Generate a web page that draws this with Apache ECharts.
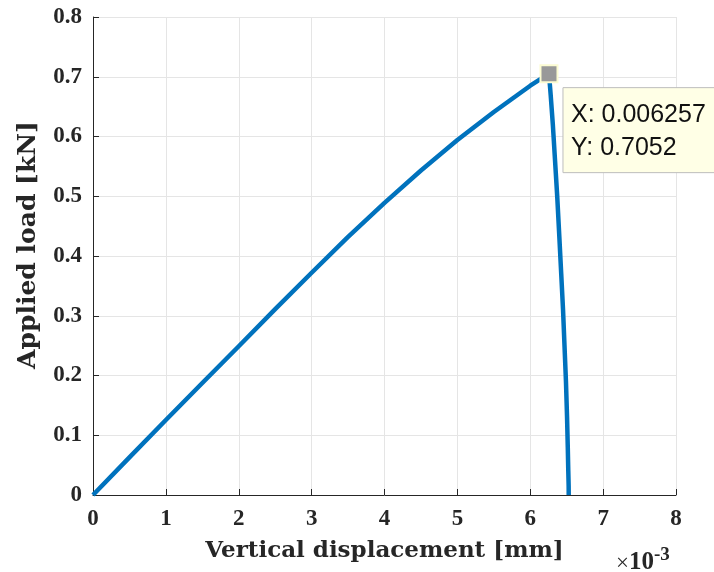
<!DOCTYPE html>
<html>
<head>
<meta charset="utf-8">
<script src="https://cdn.jsdelivr.net/npm/echarts@6/dist/echarts.min.js"></script>
<style>html,body{margin:0;padding:0;background:#fff;}#c{width:714px;height:572px;}</style>
</head>
<body>
<div id="c"></div>
<script>
// displacement in units of 1e-3 mm, load in kN
const dispRise = [0, 0.5, 1, 1.5, 2, 2.5, 3, 3.5, 4, 4.5, 5, 5.5, 6, 6.257];
const loadRise = [0, 0.063, 0.1255, 0.1875, 0.249, 0.311, 0.372, 0.432, 0.489, 0.543, 0.594, 0.641, 0.685, 0.7052];
const dispFall = [6.28, 6.31, 6.34, 6.37, 6.40, 6.425, 6.45, 6.47, 6.49, 6.505, 6.515, 6.522, 6.527, 6.528];
const loadFall = [0.67, 0.62, 0.56, 0.5, 0.43, 0.37, 0.31, 0.25, 0.19, 0.13, 0.08, 0.04, 0.015, 0];
const peak = [6.257, 0.7052];
const peakLabelX = 'X: 0.006257';
const peakLabelY = 'Y: 0.7052';
const xTicks = [0, 1, 2, 3, 4, 5, 6, 7, 8];
const yTicks = [0, 0.1, 0.2, 0.3, 0.4, 0.5, 0.6, 0.7, 0.8];
const xName = 'Vertical displacement [mm]';
const yName = 'Applied load [kN]';

const curve = [];
dispRise.forEach((d, i) => curve.push([d, loadRise[i]]));
dispFall.forEach((d, i) => curve.push([d, loadFall[i]]));

const serif = '"Liberation Serif", "DejaVu Serif", serif';
const nameFont = '"DejaVu Serif", serif';
const chart = echarts.init(document.getElementById('c'));
chart.setOption({
  animation: false,
  grid: { left: 93, right: 38, top: 17, bottom: 77 },
  xAxis: {
    type: 'value', min: xTicks[0], max: xTicks[xTicks.length - 1], interval: 1,
    name: xName, nameLocation: 'middle', nameGap: 45,
    nameTextStyle: { fontFamily: nameFont, fontWeight: 'bold', fontSize: 23, color: '#262626' },
    axisLine: { show: true, lineStyle: { color: '#262626', width: 1 } },
    axisTick: { show: true, inside: true, length: 6, lineStyle: { color: '#262626' } },
    axisLabel: { fontFamily: serif, fontWeight: 'bold', fontSize: 23, color: '#262626', margin: 13 },
    splitLine: { show: true, lineStyle: { color: '#e5e5e5', width: 1 } }
  },
  yAxis: {
    type: 'value', min: yTicks[0], max: yTicks[yTicks.length - 1], interval: 0.1,
    axisLine: { show: true, lineStyle: { color: '#262626', width: 1 } },
    axisTick: { show: true, inside: true, length: 6, lineStyle: { color: '#262626' } },
    axisLabel: { fontFamily: serif, fontWeight: 'bold', fontSize: 23, color: '#262626', margin: 11,
      formatter: v => (Math.round(v * 10) / 10).toString() },
    splitLine: { show: true, lineStyle: { color: '#e5e5e5', width: 1 } }
  },
  series: [
    {
      type: 'line', data: curve, showSymbol: false, smooth: false,
      lineStyle: { color: '#0072BD', width: 4.5, join: 'round' }, z: 3
    },
    {
      type: 'scatter', data: [peak], symbol: 'rect', symbolSize: 17,
      itemStyle: { color: '#999999', borderColor: '#fcfcd2', borderWidth: 2, opacity: 1 }, z: 5
    }
  ]
});

const p = chart.convertToPixel({ gridIndex: 0 }, peak);
chart.setOption({
  graphic: [
    {
      type: 'text', x: 28, y: 245, rotation: Math.PI / 2,
      style: { text: yName, font: 'bold 25px "DejaVu Serif", serif', fill: '#262626', align: 'center', verticalAlign: 'middle' }
    },
    {
      type: 'rect', shape: { x: p[0] + 14, y: p[1] + 14, width: 170, height: 85 },
      style: { fill: '#ffffe6', stroke: '#bdbdbd', lineWidth: 1 }, z: 10
    },
    {
      type: 'text', x: p[0] + 22, y: p[1] + 41,
      style: { text: peakLabelX, font: '25px "Liberation Sans", Arial, sans-serif', fill: '#111', verticalAlign: 'middle' }, z: 11
    },
    {
      type: 'text', x: p[0] + 22, y: p[1] + 74,
      style: { text: peakLabelY, font: '25px "Liberation Sans", Arial, sans-serif', fill: '#111', verticalAlign: 'middle' }, z: 11
    },
    {
      type: 'text', x: 616, y: 546,
      style: {
        text: '{a|×}{b|10}{c|-3}',
        rich: {
          a: { fontFamily: serif, fontSize: 23, fill: '#262626', verticalAlign: 'bottom' },
          b: { fontFamily: serif, fontSize: 25, fontWeight: 'bold', fill: '#262626', verticalAlign: 'bottom' },
          c: { fontFamily: serif, fontSize: 19, fontWeight: 'bold', fill: '#262626', verticalAlign: 'top', padding: [0, 0, 10, 0] }
        }
      }, z: 11
    }
  ]
});
</script>
</body>
</html>
